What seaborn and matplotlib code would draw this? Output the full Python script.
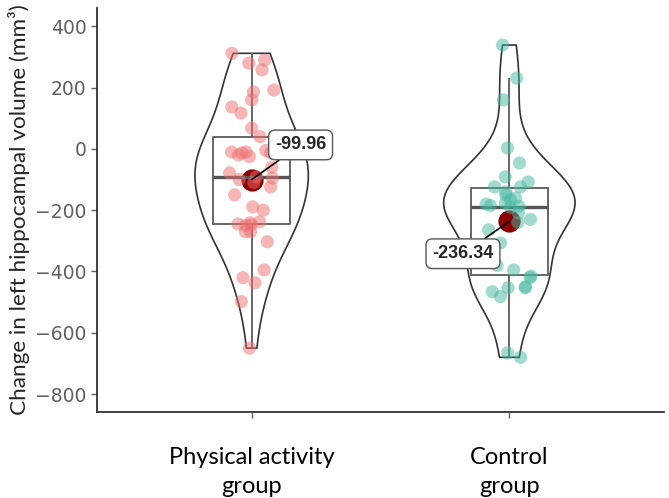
import numpy as np
import pandas as pd
import seaborn as sns
import matplotlib.pyplot as plt

# values (mm3)
groups = ["Physical activity\ngroup", "Control\ngroup"]
activity_change = [312, 290, 280, 258, 192, 186, 160, 137, 117, 68, 40, -5, -10, -10,
                   -13, -13, -20, -25, -60, -78, -91, -95, -100, -110, -124, -150, -189,
                   -200, -238, -241, -245, -248, -250, -270, -270, -303, -395, -420,
                   -437, -498, -650]
control_change = [339, 231, 160, 3, -46, -91, -108, -124, -124, -140, -150, -160, -166,
                  -176, -180, -185, -187, -191, -209, -230, -240, -264, -307, -395, -380,
                  -415, -420, -450, -453, -453, -466, -482, -666, -680]
mean_values = [-99.96, -236.34]
mean_labels = ["-99.96", "-236.34"]
yticks = [-800, -600, -400, -200, 0, 200, 400]

point_colors = ["#EE6F6F", "#45B8A2"]

df = pd.DataFrame({
    "group": [groups[0]] * len(activity_change) + [groups[1]] * len(control_change),
    "change": activity_change + control_change,
})
means = pd.DataFrame({"group": groups, "change": mean_values})

sns.set_style("white")
plt.rcParams["font.family"] = ["DejaVu Sans"]

fig, ax = plt.subplots(figsize=(6.69, 4.98), dpi=100)
fig.subplots_adjust(left=0.145, right=0.9925, bottom=0.173, top=0.984)

# one violin per group so each gets its own width / smoothing
violin_style = [(0.44, 1.0), (0.51, 0.9)]
for g, (w, bw) in zip(groups, violin_style):
    sns.violinplot(data=df[df["group"] == g], x="group", y="change", order=groups,
                   cut=0, inner=None, fill=False, color="#333333", linewidth=1.2,
                   width=w, density_norm="width", bw_adjust=bw, ax=ax)
sns.boxplot(data=df, x="group", y="change", order=groups, fill=False, width=0.3,
            color="#666666", linewidth=1.4, showfliers=False, showcaps=False,
            medianprops={"color": "#555555", "linewidth": 2.4}, ax=ax)
np.random.seed(7)
sns.stripplot(data=df, x="group", y="change", hue="group", order=groups,
              palette=point_colors, jitter=0.09, size=9.5, alpha=0.5, linewidth=0,
              legend=False, ax=ax)
sns.pointplot(data=means, x="group", y="change", order=groups, color="#8B0000",
              linestyle="none", markersize=14, errorbar=None, ax=ax)

# mean labels
label_pos = [(0.19, 13), (0.82, -342)]
for i in range(2):
    ax.annotate(mean_labels[i], xy=(i, mean_values[i]), xytext=label_pos[i],
                ha="center", va="center", fontsize=13, fontweight="bold",
                family="Liberation Sans", zorder=6,
                bbox=dict(boxstyle="round,pad=0.35", fc="white", ec="#555555", lw=1),
                arrowprops=dict(arrowstyle="-", color="black", lw=1.2,
                                shrinkA=0, shrinkB=0))

ax.set_xlim(-0.6, 1.6)
ax.set_ylim(-858, 460)
ax.set_yticks(yticks)
sns.despine(ax=ax)
for side in ["left", "bottom"]:
    ax.spines[side].set_color("#333333")
    ax.spines[side].set_linewidth(1.3)
ax.tick_params(axis="y", labelsize=13.5, labelcolor="#606060", color="#606060",
               length=4, width=1, left=True)
ax.tick_params(axis="x", labelsize=17, labelcolor="black", color="#606060",
               length=4, width=1, bottom=True, pad=21)
for lab in ax.get_xticklabels():
    lab.set_family("Lato")
    lab.set_linespacing(1.5)
ax.set_xlabel("")
ax.set_ylabel("Change in left hippocampal volume (mm³)", fontsize=16.2,
              family="Lato")
ax.yaxis.set_label_coords(-0.118, 0.5)

fig.savefig("out.png", dpi=100)
